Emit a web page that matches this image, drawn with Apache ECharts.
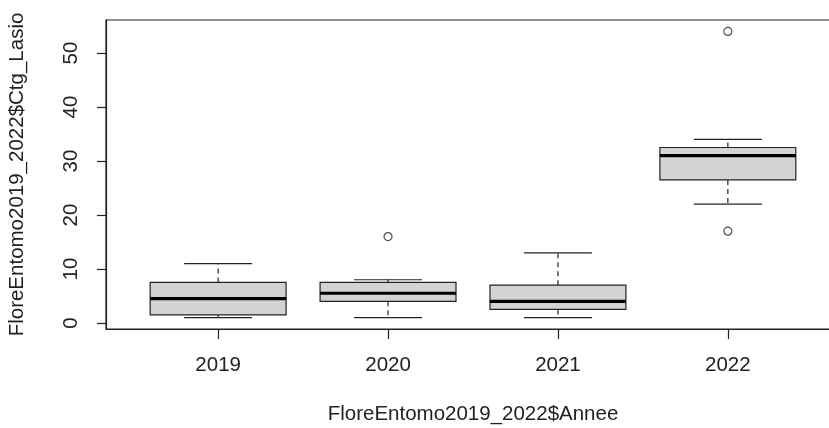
<!DOCTYPE html>
<html>
<head>
<meta charset="utf-8">
<script src="https://cdn.jsdelivr.net/npm/echarts@6/dist/echarts.min.js"></script>
<style>
html,body{margin:0;padding:0;background:#fff;}
#c{width:829px;height:428px;}
</style>
</head>
<body>
<div id="c"></div>
<script>
const years = ['2019', '2020', '2021', '2022'];
const whiskerLow = [1, 1, 1, 22];
const q1 = [1.5, 4, 2.5, 26.5];
const median = [4.5, 5.5, 4, 31];
const q3 = [7.5, 7.5, 7, 32.5];
const whiskerHigh = [11, 8, 13, 34];
const outlierYearIndex = [1, 3, 3];
const outlierValue = [16, 54, 17];
const yTicks = [0, 10, 20, 30, 40, 50];
const xLabel = 'FloreEntomo2019_2022$Annee';
const yLabel = 'FloreEntomo2019_2022$Ctg_Lasio';

const boxData = years.map((y, i) => [i + 1, whiskerLow[i], q1[i], median[i], q3[i], whiskerHigh[i]]);
const outData = outlierValue.map((v, i) => [outlierYearIndex[i] + 1, v]);
const xTicks = years.map((y, i) => i + 1);

const ink = '#222';
const font = 'Liberation Sans, Arial, sans-serif';
const fs = 20.5;

const chart = echarts.init(document.getElementById('c'));
chart.setOption({
  animation: false,
  grid: {left: 106, top: 20, width: 734, height: 309, show: true, borderColor: ink, borderWidth: 1.2, containLabel: false, outerBoundsMode: 'none'},
  xAxis: {
    type: 'value', min: 0.34, max: 4.66,
    splitLine: {show: false},
    axisLine: {show: true, onZero: false, lineStyle: {color: ink, width: 1.2}},
    axisTick: {show: true, length: 10, customValues: xTicks, lineStyle: {color: ink, width: 1.2}},
    axisLabel: {customValues: xTicks, formatter: v => years[Math.round(v) - 1], color: ink, fontFamily: font, fontSize: fs, margin: 26},
    name: xLabel, nameLocation: 'middle', nameGap: 75,
    nameTextStyle: {color: ink, fontFamily: font, fontSize: fs}
  },
  yAxis: {
    type: 'value', min: -1.12, max: 56.12,
    splitLine: {show: false},
    axisLine: {show: true, onZero: false, lineStyle: {color: ink, width: 1.2}},
    axisTick: {show: true, length: 9, customValues: yTicks, lineStyle: {color: ink, width: 1.2}},
    axisLabel: {customValues: yTicks, rotate: 90, color: ink, fontFamily: font, fontSize: fs, margin: 24},
    name: yLabel, nameLocation: 'middle', nameGap: 78, nameRotate: 90,
    nameTextStyle: {color: ink, fontFamily: font, fontSize: fs}
  },
  series: [
    {
      type: 'custom',
      data: boxData,
      encode: {x: 0, y: [1, 2, 3, 4, 5]},
      renderItem: function (params, api) {
        const x = api.value(0);
        const hw = api.size([0.8, 0])[0] / 2;
        const cw = hw / 2;
        const pLo = api.coord([x, api.value(1)]);
        const pQ1 = api.coord([x, api.value(2)]);
        const pMed = api.coord([x, api.value(3)]);
        const pQ3 = api.coord([x, api.value(4)]);
        const pHi = api.coord([x, api.value(5)]);
        const cx = pQ1[0];
        const dash = {stroke: ink, lineWidth: 1.2, lineDash: [5, 4]};
        const solid = {stroke: ink, lineWidth: 1.2};
        return {
          type: 'group',
          children: [
            {type: 'line', shape: {x1: cx, y1: pQ3[1], x2: cx, y2: pHi[1]}, style: dash},
            {type: 'line', shape: {x1: cx, y1: pQ1[1], x2: cx, y2: pLo[1]}, style: dash},
            {type: 'line', shape: {x1: cx - cw, y1: pHi[1], x2: cx + cw, y2: pHi[1]}, style: solid},
            {type: 'line', shape: {x1: cx - cw, y1: pLo[1], x2: cx + cw, y2: pLo[1]}, style: solid},
            {type: 'rect', shape: {x: cx - hw, y: pQ3[1], width: 2 * hw, height: pQ1[1] - pQ3[1]}, style: {fill: '#d3d3d3', stroke: ink, lineWidth: 1.2}},
            {type: 'line', shape: {x1: cx - hw, y1: pMed[1], x2: cx + hw, y2: pMed[1]}, style: {stroke: '#000', lineWidth: 3.2}}
          ]
        };
      }
    },
    {
      type: 'scatter',
      data: outData,
      symbol: 'circle',
      symbolSize: 8,
      itemStyle: {color: 'rgba(0,0,0,0)', borderColor: ink, borderWidth: 1.2}
    }
  ]
});
</script>
</body>
</html>
